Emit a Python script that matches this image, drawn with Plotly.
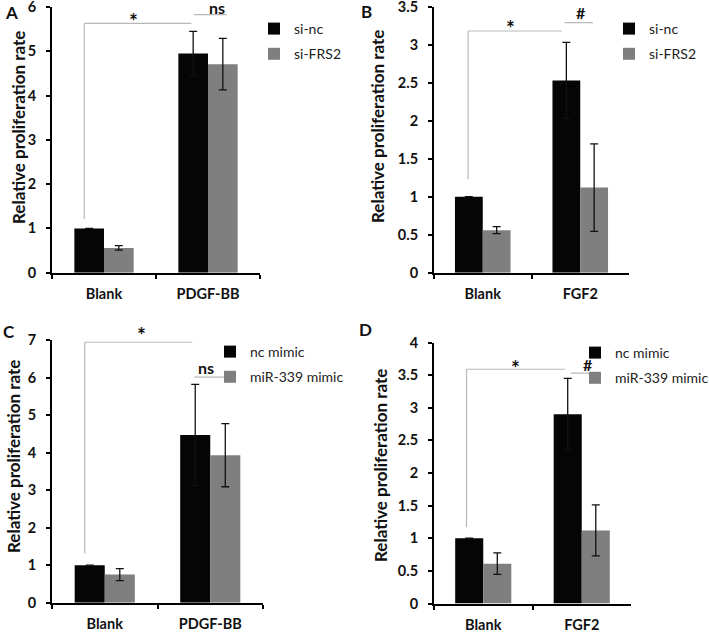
import plotly.graph_objects as go

W, H = 709, 632

# ---------------- data ----------------
cats_pdgf = ["Blank", "PDGF-BB"]
cats_fgf = ["Blank", "FGF2"]

A_si_nc = [1.0, 4.95]
A_si_nc_err = [0.0, 0.50]
A_si_frs2 = [0.56, 4.71]
A_si_frs2_err = [0.05, 0.58]

B_si_nc = [1.0, 2.53]
B_si_nc_err = [0.0, 0.50]
B_si_frs2 = [0.56, 1.12]
B_si_frs2_err = [0.046, 0.575]

C_nc_mimic = [1.0, 4.47]
C_nc_mimic_err = [0.0, 1.35]
C_mir_mimic = [0.75, 3.93]
C_mir_mimic_err = [0.16, 0.84]

D_nc_mimic = [1.0, 2.90]
D_nc_mimic_err = [0.0, 0.55]
D_mir_mimic = [0.61, 1.12]
D_mir_mimic_err = [0.165, 0.39]

series_names_si = ["si-nc", "si-FRS2"]
series_names_mimic = ["nc mimic", "miR-339 mimic"]

y_ranges = [[0, 6], [0, 3.5], [0, 7], [0, 4]]
y_dticks = [1, 0.5, 1, 0.5]

BLACK = "#050505"
GRAY = "#7f7f7f"
BRACKET = "#b8b8b8"
FONT = "Lato"
TXT = "#111111"


def px_x(p):
    return p / W


def px_y(p):
    return 1 - p / H


fig = go.Figure()

panels = [
    ("x", "y", cats_pdgf, A_si_nc, A_si_nc_err, A_si_frs2, A_si_frs2_err, series_names_si, "legend"),
    ("x2", "y2", cats_fgf, B_si_nc, B_si_nc_err, B_si_frs2, B_si_frs2_err, series_names_si, "legend2"),
    ("x3", "y3", cats_pdgf, C_nc_mimic, C_nc_mimic_err, C_mir_mimic, C_mir_mimic_err, series_names_mimic, "legend3"),
    ("x4", "y4", cats_fgf, D_nc_mimic, D_nc_mimic_err, D_mir_mimic, D_mir_mimic_err, series_names_mimic, "legend4"),
]

for i, (xa, ya, cats, v1, e1, v2, e2, names, leg) in enumerate(panels):
    for j, (vals, errs, col) in enumerate([(v1, e1, BLACK), (v2, e2, GRAY)]):
        err_arr = [e if e > 0 else None for e in errs]
        fig.add_trace(go.Bar(
            x=cats, y=vals, name=names[j], marker=dict(color=col, line=dict(width=0)),
            error_y=dict(type="data", array=err_arr, visible=True, color="#111111",
                         thickness=1.3, width=4),
            xaxis=xa, yaxis=ya, legend=leg, legendgroup=f"g{i}{j}", showlegend=True,
        ))

# domains (pixel-measured)
x_doms = [[52, 260], [434, 629], [52, 263], [434, 631]]
y_doms = [[272.7, 7], [272.7, 6.7], [602.7, 340], [603.5, 342.5]]

tick_font = dict(family=FONT, size=14.5, color=TXT, weight="bold")
axis_common = dict(showline=True, linecolor="black", linewidth=2, ticks="outside",
                   tickcolor="black", tickwidth=2, showgrid=False, zeroline=False,
                   automargin=False, ticklabeloverflow="allow", tickfont=tick_font)
layout = dict(width=W, height=H, margin=dict(l=0, r=0, t=0, b=0, autoexpand=False),
              paper_bgcolor="white", plot_bgcolor="white", template="none",
              barmode="group", bargap=0.43, bargroupgap=0.0,
              font=dict(family=FONT, color=TXT))
for i in range(4):
    sfx = "" if i == 0 else str(i + 1)
    xd = [px_x(x_doms[i][0]), px_x(x_doms[i][1])]
    yd = [px_y(y_doms[i][0]), px_y(y_doms[i][1])]
    layout["xaxis" + sfx] = dict(domain=xd, anchor="y" + sfx, type="category",
                                 range=[-0.5, 1.5], tickson="boundaries", ticklen=4,
                                 ticklabelstandoff=7, **axis_common)
    layout["yaxis" + sfx] = dict(domain=yd, anchor="x" + sfx, range=y_ranges[i],
                                 dtick=y_dticks[i], tick0=0, ticklen=4,
                                 ticklabelstandoff=7, **axis_common)

# legends
leg_pos = [(254, 13), (609, 13), (210, 336), (575, 337)]
for i, (lx, ly) in enumerate(leg_pos):
    key = "legend" if i == 0 else f"legend{i + 1}"
    layout[key] = dict(x=px_x(lx), y=px_y(ly), xanchor="left", yanchor="top",
                       bgcolor="rgba(0,0,0,0)", borderwidth=0, tracegroupgap=4,
                       font=dict(family=FONT, size=14, color="#222222"),
                       itemclick=False)

fig.update_layout(**layout)

# significance brackets
# (star_left, star_right, star_bottom, star_top, hash_left, hash_right, hash_y)
brackets = [
    (-0.19, 0.84, 1.21, 5.63, 0.865, 1.18, 5.83),
    (-0.15, 0.81, 1.23, 3.18, 0.84, 1.13, 3.29),
    (-0.19, 0.83, 1.31, 6.94, 0.85, 1.24, 6.01),
    (-0.17, 0.83, 1.17, 3.59, 0.89, 1.135, 3.53),
]
labels = [
    ((0.279, 5.80, "*"), (1.087, 5.98, "ns")),
    ((0.28, 3.29, "*"), (1.008, 3.42, "#")),
    ((0.35, 7.29, "*"), (0.957, 6.27, "ns")),
    ((0.331, 3.69, "*"), (1.06, 3.67, "#")),
]
for i, (sl, sr, sb, st, hl, hr, hy) in enumerate(brackets):
    sfx = "" if i == 0 else str(i + 1)
    xr, yr = "x" + sfx, "y" + sfx
    ln = dict(color=BRACKET, width=1.2)
    fig.add_shape(type="line", xref=xr, yref=yr, x0=sl, x1=sl, y0=sb, y1=st, line=ln)
    fig.add_shape(type="line", xref=xr, yref=yr, x0=sl, x1=sr, y0=st, y1=st, line=ln)
    fig.add_shape(type="line", xref=xr, yref=yr, x0=hl, x1=hr, y0=hy, y1=hy, line=ln)
    ymax = y_ranges[i][1]
    for (tx, ty, tt) in labels[i]:
        is_star = tt == "*"
        fig.add_annotation(x=tx, y=ty / ymax, xref=xr, yref=f"{yr} domain",
                           text=f"<b>{tt}</b>",
                           showarrow=False, yshift=-5 if is_star else 0,
                           xanchor="center", yanchor="middle",
                           font=dict(family=FONT, size=21 if is_star else 16, color=TXT))

# y-axis titles
ytitle_pos = [(19, 128), (378, 126), (13, 457), (380, 466)]
for (tx, ty) in ytitle_pos:
    fig.add_annotation(x=px_x(tx), y=px_y(ty), xref="paper", yref="paper",
                       xanchor="center", yanchor="middle",
                       text="<b>Relative proliferation rate</b>", textangle=-90,
                       showarrow=False, font=dict(family=FONT, size=17, color=TXT))

# panel letters
letters = [("A", 11, 12.5), ("B", 366, 12), ("C", 9, 331), ("D", 365, 329.5)]
for (lt, tx, ty) in letters:
    fig.add_annotation(x=px_x(tx), y=px_y(ty), xref="paper", yref="paper",
                       xanchor="center", yanchor="middle",
                       text=f"<b>{lt}</b>", showarrow=False,
                       font=dict(family=FONT, size=17, color=TXT))

fig.write_html("out.html", config={"displayModeBar": False, "staticPlot": True},
               post_script="document.body.style.margin='0';document.body.style.padding='0';")
